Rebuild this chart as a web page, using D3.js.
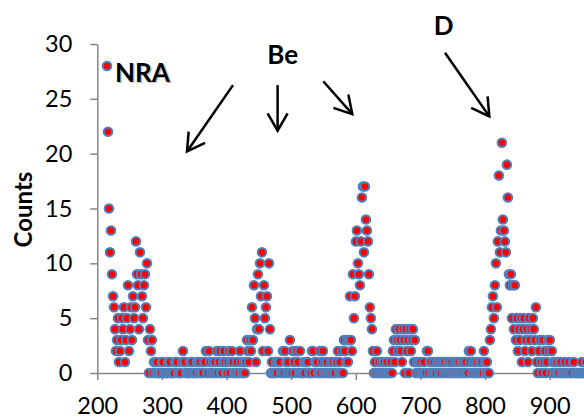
<!DOCTYPE html>
<html>
<head>
<meta charset="utf-8">
<script src="https://cdn.jsdelivr.net/npm/d3@7"></script>
<style>
html, body { margin: 0; padding: 0; background: #fff; }
svg { display: block; font-family: Lato, "Open Sans", sans-serif; }
</style>
</head>
<body>
<svg id="chart" width="584" height="419"></svg>
<script>
// counts per channel
var nraCounts = [
  28, 22, 15, 11, 13, 9, 7, 6, 4, 2,
  3, 5, 1, 2, 3, 5, 4, 6, 1, 3,
  5, 8, 2, 4, 6, 3, 7, 5, 6, 12,
  9, 8, 4, 11, 9, 7, 5, 8, 9, 6,
  10, 3, 0, 4, 2, 3
];
var lowCountsA = [
  0, 1, 1, 0, 1, 0, 0, 0, 0, 1,
  1, 0, 0, 0, 0, 1, 0, 1, 0, 0,
  0, 0, 1, 1, 1, 0, 0, 0, 0, 1,
  2, 1, 1, 0, 0, 0, 0, 1, 0, 1,
  0, 0, 0, 0, 1, 1, 0, 1, 0, 0,
  0, 1, 1, 2, 0, 0, 2, 1, 0, 0,
  1, 0, 1, 0, 2, 0, 1, 2, 0, 0,
  1, 2, 1, 0, 0, 1, 2, 0, 1, 2,
  1, 0, 0, 0, 1, 0, 0, 2, 1, 0,
  0, 1, 0
];
var beCountsA = [
  1, 3, 2, 1, 3, 2, 6, 3, 8, 5,
  1, 4, 9, 4, 10, 7, 11, 2, 8, 5,
  6, 7, 2, 10, 4, 0, 1
];
var lowCountsB = [
  0, 0, 0, 1, 0, 1, 1, 1, 0, 0,
  2, 0, 2, 1, 0, 1, 0, 3, 0, 0,
  2, 1, 0, 2, 2, 1, 0, 2, 0, 0,
  0, 1, 0, 1, 1, 1, 0, 0, 0, 2,
  2, 0, 1, 1, 1, 0, 0, 2, 0, 1,
  2, 0, 1, 0, 1, 0, 0, 0, 1, 0,
  1, 0, 0, 1, 1, 2, 0, 1, 0, 2
];
var beCountsB = [
  0, 3, 2, 1, 3, 1, 3, 7, 3, 2,
  9, 5, 7, 12, 13, 10, 9, 8, 12, 16,
  17, 11, 17, 14, 13, 12, 9, 6, 5, 4,
  2, 0, 1, 0, 2
];
var lowCountsC = [
  0, 1, 0, 0, 1, 0, 1, 0, 0, 1,
  0, 0, 0, 1, 0, 2, 3, 1, 4, 3,
  2, 4, 3, 2, 1, 4, 3, 0, 4, 2,
  3, 0, 4, 2, 3, 4, 1, 3, 0, 1,
  0, 1, 0, 1, 0, 0, 1, 0, 0, 2,
  2, 0, 1, 1, 0, 0, 1, 0, 0, 1,
  1, 0, 1, 0, 1, 1, 0, 1, 0, 0,
  1, 0, 1, 0, 1, 0, 0, 1, 0, 1,
  0, 1, 0, 0, 1, 0, 1, 0, 1, 0,
  0, 2, 1, 2, 0, 1, 0, 1, 0, 1,
  0, 0, 1, 0, 1, 0, 2, 1, 0, 1,
  0, 0
];
var dCounts = [
  3, 4, 6, 7, 5, 8, 10, 6, 12, 18,
  11, 13, 21, 14, 13, 12, 11, 19, 16, 9,
  8, 9, 5, 8, 4, 8, 3, 5, 2, 4,
  3, 5, 1, 4, 5, 2, 3, 4, 1, 5,
  3, 4, 2, 5, 4, 3, 6, 1, 0, 2,
  3
];
var tailCounts = [
  1, 0, 3, 1, 2, 0, 1, 3, 2, 3,
  0, 2, 1, 0, 1, 0, 1, 0, 0, 1,
  1, 0, 0, 0, 1, 0, 0, 0, 1, 0,
  0, 0, 1, 1, 0, 0, 0, 0, 0, 0,
  0, 1, 0, 0, 0, 1, 0, 0, 0, 0
];

// energy calibration of the channels
var energyStart = 215.0;
var energyStep = 1.547;

var xTicks = [200, 300, 400, 500, 600, 700, 800, 900];
var yTicks = [0, 5, 10, 15, 20, 25, 30];

var labels = [
  { text: "NRA", e: 227.5, c: 26.55, anchor: "start", shadow: true },
  { text: "Be", e: 463, c: 28.2, anchor: "start", shadow: false },
  { text: "D", e: 736, c: 30.8, anchor: "middle", shadow: false }
];
// arrows: from (e0,c0) to tip (e1,c1)
var arrows = [
  { e0: 410, c0: 26.25, e1: 338.8, c1: 20.2 },
  { e0: 479, c0: 26.25, e1: 479, c1: 22.1 },
  { e0: 549.7, c0: 26.6, e1: 594.6, c1: 23.6 },
  { e0: 738, c0: 29.2, e1: 806.6, c1: 23.4 }
];

var counts = [].concat(nraCounts, lowCountsA, beCountsA, lowCountsB,
  beCountsB, lowCountsC, dCounts, tailCounts);
var points = counts.map(function (c, i) {
  return { e: energyStart + energyStep * i, c: c };
});

var svg = d3.select("#chart");

var x = d3.scaleLinear().domain([200, 1000]).range([97.3, 614.3]);
var y = d3.scaleLinear().domain([0, 30]).range([373, 44]);

var axisColor = "#868686";

var gx = svg.append("g")
  .attr("transform", "translate(0," + y(0) + ")")
  .call(d3.axisBottom(x).tickValues(xTicks).tickSize(7).tickSizeOuter(0).tickPadding(17));

var gy = svg.append("g")
  .attr("transform", "translate(" + x(200) + ",0)")
  .call(d3.axisLeft(y).tickValues(yTicks).tickSize(7).tickSizeOuter(0).tickPadding(18));

[gx, gy].forEach(function (g) {
  g.select(".domain").attr("stroke", axisColor).attr("stroke-width", 1.5);
  g.selectAll(".tick line").attr("stroke", axisColor).attr("stroke-width", 1.5);
  g.selectAll(".tick text")
    .attr("fill", "#000")
    .style("font-size", "23.5px")
    .style("font-family", "Lato, 'Open Sans', sans-serif");
});

svg.append("text")
  .attr("transform", "translate(32,209.5) rotate(-90)")
  .attr("text-anchor", "middle")
  .attr("font-weight", "bold")
  .style("font-size", "24px")
  .text("Counts");

svg.append("g")
  .selectAll("circle")
  .data(points)
  .enter().append("circle")
    .attr("cx", function (d) { return x(d.e); })
    .attr("cy", function (d) { return y(d.c); })
    .attr("r", 4.3)
    .attr("fill", "#ff0000")
    .attr("stroke", "#4f81bd")
    .attr("stroke-width", 2);

var lab = svg.append("g").attr("font-weight", "bold").style("font-size", "26px");
labels.forEach(function (l) {
  if (l.shadow) {
    lab.append("text")
      .attr("x", x(l.e) + 1.5).attr("y", y(l.c) + 1.5)
      .attr("text-anchor", l.anchor)
      .attr("fill", "#999").attr("opacity", 0.6)
      .text(l.text);
  }
  lab.append("text")
    .attr("x", x(l.e)).attr("y", y(l.c))
    .attr("text-anchor", l.anchor)
    .attr("fill", "#000")
    .text(l.text);
});

var ag = svg.append("g").attr("stroke", "#000").attr("stroke-width", 2.5).attr("fill", "none");
arrows.forEach(function (a) {
  var x0 = x(a.e0), y0 = y(a.c0), x1 = x(a.e1), y1 = y(a.c1);
  var ang = Math.atan2(y0 - y1, x0 - x1);
  var len = 20, spread = Math.PI / 6;
  ag.append("line").attr("x1", x0).attr("y1", y0).attr("x2", x1).attr("y2", y1);
  ag.append("path")
    .attr("d", "M" + (x1 + len * Math.cos(ang - spread)) + "," + (y1 + len * Math.sin(ang - spread)) +
      "L" + x1 + "," + y1 +
      "L" + (x1 + len * Math.cos(ang + spread)) + "," + (y1 + len * Math.sin(ang + spread)));
});
</script>
</body>
</html>
